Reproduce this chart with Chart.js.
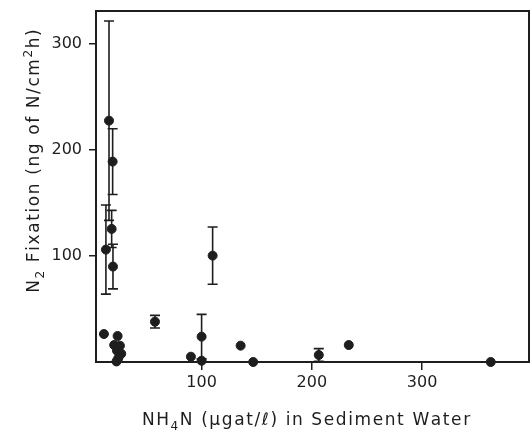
<!DOCTYPE html>
<html>
<head>
<meta charset="utf-8">
<script src="https://cdn.jsdelivr.net/npm/chart.js@4"></script>
<style>
  html, body { margin: 0; padding: 0; background: #fff; }
  #wrap { width: 530px; height: 431px; position: relative; }
</style>
</head>
<body>
<div id="wrap"><canvas id="c"></canvas></div>
<script>
// Ammonium in sediment water (µgat/l) vs. N2 fixation (ng N/cm2 h)
const nh4 = [16, 19.3, 13.2, 18.4, 19.6, 11.4, 23.8, 20.7, 25.9, 23.2, 27.1, 24.4, 22.8,
             57.7, 110, 100, 90.3, 100, 135.4, 146.8, 206.3, 233.5, 362.3];
const fixation = [227.6, 189, 106, 125.5, 90, 26.4, 24.5, 16, 15.4, 10.8, 7.8, 3.5, 0.5,
                  38, 100.3, 23.9, 5, 1.2, 15.4, 0, 6.6, 16, 0];
const fixationErr = [94, 31, 42, 17.5, 21, 0, 0, 0, 0, 0, 0, 0, 0,
                     6, 27, 21, 0, 0, 0, 0, 6, 0, 0];
const xTicks = [100, 200, 300];
const yTicks = [100, 200, 300];

const INK = '#1e1e1e';
const FONT = '"DejaVu Sans", sans-serif';

const points = nh4.map((x, i) => ({ x: x, y: fixation[i], err: fixationErr[i] }));

// vertical error bars with caps, positioned through the scales
const errorBars = {
  id: 'errorBars',
  afterDatasetsDraw(chart) {
    const xs = chart.scales.x, ys = chart.scales.y, ctx = chart.ctx;
    ctx.save();
    ctx.strokeStyle = INK;
    ctx.lineWidth = 1.6;
    points.forEach(p => {
      if (!p.err) return;
      const px = xs.getPixelForValue(p.x);
      const top = ys.getPixelForValue(p.y + p.err);
      const bot = ys.getPixelForValue(Math.max(0, p.y - p.err));
      ctx.beginPath();
      ctx.moveTo(px, top); ctx.lineTo(px, bot);
      ctx.moveTo(px - 5, top); ctx.lineTo(px + 5, top);
      if (p.y - p.err > 0) { ctx.moveTo(px - 5, bot); ctx.lineTo(px + 5, bot); }
      ctx.stroke();
    });
    ctx.restore();
  }
};

// closed frame around the plotting area
const frame = {
  id: 'frame',
  afterDatasetsDraw(chart) {
    const a = chart.chartArea, ctx = chart.ctx;
    ctx.save();
    ctx.strokeStyle = INK;
    ctx.lineWidth = 2;
    ctx.strokeRect(a.left, a.top, a.right - a.left, a.bottom - a.top);
    ctx.restore();
  }
};

// draws a run of text pieces, some raised or lowered, with extra tracking
function drawRich(ctx, parts, size, track) {
  const small = Math.round(size * 0.72);
  const glyphs = [];
  let w = 0;
  parts.forEach(p => {
    const f = (p.sub || p.sup ? small : size) + 'px ' + FONT;
    const dy = p.sub ? size * 0.32 : (p.sup ? -size * 0.42 : 0);
    ctx.font = f;
    for (const ch of p.t) {
      const cw = ctx.measureText(ch).width;
      glyphs.push({ ch, f, dy, x: w });
      w += cw + track;
    }
  });
  w -= track;
  glyphs.forEach(g => {
    ctx.font = g.f;
    ctx.fillText(g.ch, g.x - w / 2, g.dy);
  });
}

const axisTitles = {
  id: 'axisTitles',
  afterDraw(chart) {
    const a = chart.chartArea, ctx = chart.ctx;
    ctx.save();
    ctx.fillStyle = INK;
    ctx.textBaseline = 'alphabetic';
    ctx.textAlign = 'left';
    // x title
    ctx.save();
    ctx.translate(306, 425);
    drawRich(ctx, [{ t: 'NH' }, { t: '4', sub: true }, { t: 'N (µgat/ℓ) in Sediment Water' }], 17, 1.6);
    ctx.restore();
    // y title
    ctx.save();
    ctx.translate(39, 161);
    ctx.rotate(-Math.PI / 2);
    drawRich(ctx, [{ t: 'N' }, { t: '2', sub: true }, { t: ' Fixation (ng of N/cm' }, { t: '2', sup: true }, { t: 'h)' }], 17, 1.6);
    ctx.restore();
    ctx.restore();
  }
};

new Chart(document.getElementById('c'), {
  type: 'scatter',
  data: {
    datasets: [{
      data: points,
      backgroundColor: INK,
      borderColor: INK,
      pointRadius: 4.5,
      pointHoverRadius: 4.5,
      clip: false
    }]
  },
  options: {
    responsive: true,
    maintainAspectRatio: false,
    animation: false,
    events: [],
    layout: { autoPadding: false, padding: { top: 11, right: 1, left: 0, bottom: 0 } },
    plugins: { legend: { display: false }, tooltip: { enabled: false } },
    scales: {
      x: {
        type: 'linear',
        min: 4.2,
        max: 397,
        afterBuildTicks: s => { s.ticks = xTicks.map(v => ({ value: v })); },
        afterFit: s => { s.height = 69; s.paddingLeft = 0; s.paddingRight = 0; },
        grid: { drawOnChartArea: false, drawTicks: true, tickLength: 8, color: INK, lineWidth: 1.5 },
        border: { display: false },
        ticks: { color: INK, font: { family: FONT, size: 16 }, padding: 3, maxRotation: 0 }
      },
      y: {
        type: 'linear',
        min: 0,
        max: 331,
        afterBuildTicks: s => { s.ticks = yTicks.map(v => ({ value: v })); },
        afterFit: s => { s.width = 96; s.paddingTop = 0; s.paddingBottom = 0; },
        grid: { drawOnChartArea: false, drawTicks: true, tickLength: 7, color: INK, lineWidth: 1.5 },
        border: { display: false },
        ticks: { color: INK, font: { family: FONT, size: 16 }, padding: 7 }
      }
    }
  },
  plugins: [errorBars, frame, axisTitles]
});
</script>
</body>
</html>
